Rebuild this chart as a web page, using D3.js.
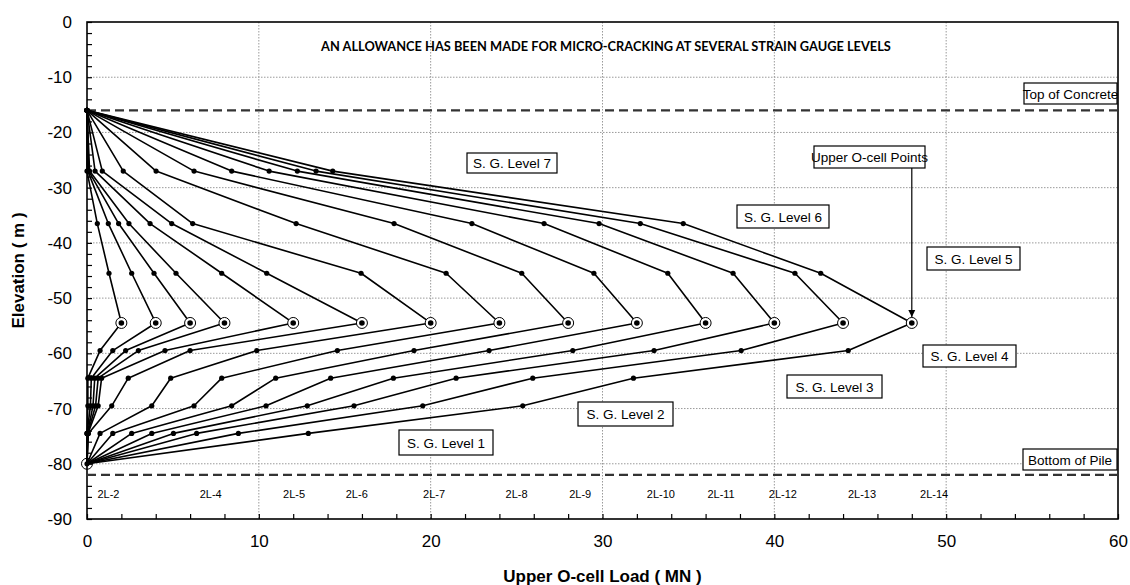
<!DOCTYPE html>
<html><head><meta charset="utf-8">
<script src="https://cdn.jsdelivr.net/npm/d3@7"></script>
<style>
html,body{margin:0;padding:0;background:#fff;}
svg{display:block;font-family:"Liberation Sans",Arial,sans-serif;}
</style></head>
<body><svg id="chart" width="1130" height="585"></svg>
<script>
// ---- data (loads in MN, elevations in m) ----
const loadSteps  = [2, 4, 6, 8, 12, 16, 20, 24, 28, 32, 36, 40, 44, 48];   // upper O-cell load
const gaugeNames = ["Top", "SG7", "SG6", "SG5", "O-cell", "SG4", "SG3", "SG2", "SG1", "Bottom"];
const gaugeElev  = [-16, -27, -36.5, -45.5, -54.5, -59.5, -64.5, -69.5, -74.5, -80];
const topLoad    = [0,0,0,0,0,0,0,0,0,0,0,0,0,0];
const sgLevel7   = [0.0, 0.05, 0.1, 0.15, 0.47, 0.89, 2.11, 4.02, 6.23, 8.42, 10.6, 12.24, 13.33, 14.3];
const sgLevel6   = [0.6, 1.24, 1.84, 2.44, 3.67, 4.93, 6.15, 12.17, 17.87, 22.4, 26.6, 29.8, 32.2, 34.7];
const sgLevel5   = [1.28, 2.6, 3.9, 5.18, 7.84, 10.46, 15.95, 20.9, 25.3, 29.5, 33.8, 37.6, 41.2, 42.7];
const sgLevel4   = [0.76, 1.5, 2.25, 2.99, 4.54, 6.0, 9.88, 14.57, 19.03, 23.4, 28.27, 33.0, 38.07, 44.3];
const sgLevel3   = [0.05, 0.25, 0.45, 0.65, 0.85, 2.4, 4.87, 7.84, 10.98, 14.18, 17.83, 21.48, 25.94, 31.8];
const sgLevel2   = [0.05, 0.2, 0.35, 0.5, 0.65, 1.44, 3.77, 6.23, 8.42, 10.42, 12.82, 15.54, 19.54, 25.36];
const sgLevel1   = [0, 0, 0.02, 0.04, 0.06, 0.08, 0.76, 1.5, 2.6, 3.77, 5.03, 6.38, 8.81, 12.88];
const bottomLoad = [0,0,0,0,0,0,0,0,0,0,0,0,0,0];
const loadTestLabels = ["2L-2","2L-4","2L-5","2L-6","2L-7","2L-8","2L-9","2L-10","2L-11","2L-12","2L-13","2L-14"];
const loadTestLabelX = [1.25, 7.2, 12.05, 15.7, 20.2, 25.0, 28.7, 33.4, 36.9, 40.5, 45.1, 49.3];
const xTicks = [0, 10, 20, 30, 40, 50, 60];
const yTicks = [0, -10, -20, -30, -40, -50, -60, -70, -80, -90];
const topOfConcrete = -16, bottomOfPile = -82;
const titleText = "AN ALLOWANCE HAS BEEN MADE FOR MICRO-CRACKING AT SEVERAL STRAIN GAUGE LEVELS";

// ---- scales ----
const svg = d3.select("#chart");
const x = d3.scaleLinear().domain([0, 60]).range([87, 1118]);
const y = d3.scaleLinear().domain([0, -90]).range([22, 519]);

// grid
const grid = svg.append("g");
grid.selectAll(".gx").data(xTicks.slice(1, -1)).join("line")
  .attr("x1", d => x(d)).attr("x2", d => x(d)).attr("y1", y(0)).attr("y2", y(-90))
  .attr("stroke", "#9a9a9a").attr("stroke-width", 1).attr("stroke-dasharray", "1.5,1.5");
grid.selectAll(".gy").data(yTicks.slice(1, -1)).join("line")
  .attr("y1", d => y(d)).attr("y2", d => y(d)).attr("x1", x(0)).attr("x2", x(60))
  .attr("stroke", "#9a9a9a").attr("stroke-width", 1).attr("stroke-dasharray", "1.5,1.5");

// axes
const xAxis = d3.axisBottom(x).tickValues(d3.range(0, 61, 2)).tickSize(-5).tickPadding(16)
  .tickFormat(d => xTicks.includes(d) ? d : "");
const gx = svg.append("g").attr("transform", `translate(0,${y(-90)})`).call(xAxis);
const yAxis = d3.axisLeft(y).tickValues(d3.range(0, -91, -2)).tickSize(-5).tickPadding(15)
  .tickFormat(d => yTicks.includes(d) ? d : "");
const gy = svg.append("g").attr("transform", `translate(${x(0)},0)`).call(yAxis);
[gx, gy].forEach(g => {
  g.select(".domain").remove();
  g.selectAll(".tick line").attr("stroke", "#000").attr("stroke-width", 1.2);
  g.selectAll(".tick text").attr("font-size", 17).attr("fill", "#000")
    .attr("font-family", "'Liberation Sans',Arial,sans-serif");
});
svg.append("rect").attr("x", x(0)).attr("y", y(0)).attr("width", x(60) - x(0)).attr("height", y(-90) - y(0))
  .attr("fill", "none").attr("stroke", "#000").attr("stroke-width", 1.6);

// dashed reference lines
[topOfConcrete, bottomOfPile].forEach(e => {
  svg.append("line").attr("x1", x(0)).attr("x2", x(60)).attr("y1", y(e)).attr("y2", y(e))
    .attr("stroke", "#333").attr("stroke-width", 2.2).attr("stroke-dasharray", "9,5");
});

// load distribution lines
const levelLoads = [topLoad, sgLevel7, sgLevel6, sgLevel5, loadSteps, sgLevel4, sgLevel3, sgLevel2, sgLevel1, bottomLoad];
const profiles = loadSteps.map((s, i) => levelLoads.map((arr, k) => ({load: arr[i], elev: gaugeElev[k], k})));
const line = d3.line().x(d => x(d.load)).y(d => y(d.elev));
svg.append("g").selectAll("path").data(profiles).join("path")
  .attr("d", line).attr("fill", "none").attr("stroke", "#000").attr("stroke-width", 1.6)
  .attr("stroke-linejoin", "round");

// markers
const pts = profiles.flat();
svg.append("g").selectAll("circle").data(pts.filter(d => d.k !== 4 && d.k !== 9)).join("circle")
  .attr("cx", d => x(d.load)).attr("cy", d => y(d.elev)).attr("r", 2.6).attr("fill", "#000");
const ocell = pts.filter(d => d.k === 4);
svg.append("g").selectAll("circle").data(ocell).join("circle")
  .attr("cx", d => x(d.load)).attr("cy", d => y(d.elev)).attr("r", 5.5)
  .attr("fill", "#fff").attr("stroke", "#000").attr("stroke-width", 1);
svg.append("g").selectAll("circle").data(ocell).join("circle")
  .attr("cx", d => x(d.load)).attr("cy", d => y(d.elev)).attr("r", 2.8).attr("fill", "#000");
// bottom point
svg.append("circle").attr("cx", x(0)).attr("cy", y(-80)).attr("r", 5.5).attr("fill", "none")
  .attr("stroke", "#000").attr("stroke-width", 1);
svg.append("circle").attr("cx", x(0)).attr("cy", y(-80)).attr("r", 2.6).attr("fill", "#000");

// title
svg.append("text").attr("x", 606).attr("y", 51).attr("text-anchor", "middle")
  .attr("font-family", "Lato,'Open Sans',sans-serif").attr("font-weight", "bold").attr("font-size", 12.8)
  .text(titleText);

// boxed annotations (pixel boxes)
const boxes = [
  {t: "Top of Concrete", x0: 1024, x1: 1117, y0: 83, y1: 104},
  {t: "S. G. Level 7", x0: 467, x1: 557, y0: 153, y1: 173},
  {t: "Upper O-cell Points", x0: 814, x1: 925, y0: 146, y1: 168},
  {t: "S. G. Level 6", x0: 737, x1: 829, y0: 205, y1: 228},
  {t: "S. G. Level 5", x0: 927, x1: 1020, y0: 247, y1: 270},
  {t: "S. G. Level 4", x0: 923, x1: 1016, y0: 345, y1: 367},
  {t: "S. G. Level 3", x0: 787, x1: 882, y0: 375, y1: 398},
  {t: "S. G. Level 2", x0: 578, x1: 673, y0: 402, y1: 426},
  {t: "S. G. Level 1", x0: 399, x1: 493, y0: 430, y1: 455},
  {t: "Bottom of Pile", x0: 1023, x1: 1117, y0: 449, y1: 470}
];
const bg = svg.append("g").selectAll("g").data(boxes).join("g");
bg.append("rect").attr("x", d => d.x0).attr("y", d => d.y0).attr("width", d => d.x1 - d.x0)
  .attr("height", d => d.y1 - d.y0).attr("fill", "#fff").attr("stroke", "#000").attr("stroke-width", 1.2);
bg.append("text").attr("x", d => (d.x0 + d.x1) / 2).attr("y", d => (d.y0 + d.y1) / 2 + 5)
  .attr("text-anchor", "middle").attr("font-size", 13.5).text(d => d.t);

// arrow to upper O-cell point
svg.append("defs").append("marker").attr("id", "ah").attr("viewBox", "0 0 10 10")
  .attr("refX", 10).attr("refY", 5).attr("markerWidth", 7).attr("markerHeight", 14)
  .attr("markerUnits", "userSpaceOnUse").attr("orient", "auto")
  .append("path").attr("d", "M0,0 L10,5 L0,10 Z").attr("fill", "#000");
svg.append("line").attr("x1", x(48)).attr("x2", x(48)).attr("y1", 168).attr("y2", y(-54.5) - 6)
  .attr("stroke", "#000").attr("stroke-width", 1.2).attr("marker-end", "url(#ah)");

// load test labels
svg.append("g").selectAll("text").data(loadTestLabels).join("text")
  .attr("x", (d, i) => x(loadTestLabelX[i])).attr("y", 498).attr("text-anchor", "middle")
  .attr("font-size", 11).text(d => d);

// axis titles
svg.append("text").attr("x", (x(0) + x(60)) / 2).attr("y", 582).attr("text-anchor", "middle")
  .attr("font-weight", "bold").attr("font-size", 17).text("Upper O-cell Load  ( MN )");
svg.append("text").attr("transform", `translate(24,${y(-45)}) rotate(-90)`).attr("text-anchor", "middle")
  .attr("font-weight", "bold").attr("font-size", 17).text("Elevation  ( m )");
</script></body></html>
